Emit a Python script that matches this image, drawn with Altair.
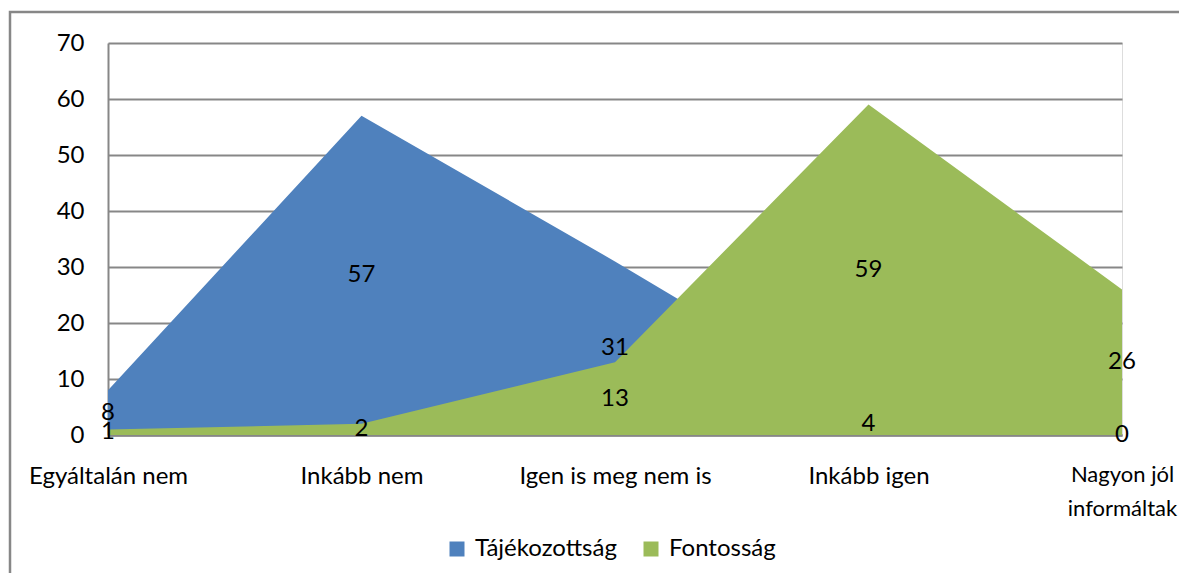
import altair as alt
import pandas as pd

categories = ["Egyáltalán nem", "Inkább nem", "Igen is meg nem is", "Inkább igen", "Nagyon jól informáltak"]
series_names = ["Tájékozottság", "Fontosság"]
tajekozottsag = [8, 57, 31, 4, 0]
fontossag = [1, 2, 13, 59, 26]
colors = ["#4F81BD", "#9BBB59"]
y_ticks = [0, 10, 20, 30, 40, 50, 60, 70]

rows = []
for name, vals in zip(series_names, [tajekozottsag, fontossag]):
    for c, v in zip(categories, vals):
        rows.append({"cat": c, "series": name, "value": v})
df = pd.DataFrame(rows)

FONT = "Lato"
FS = 24
GRID = "#878787"

x_enc = alt.X("cat:O", sort=categories, scale=alt.Scale(type="point", padding=0),
              axis=alt.Axis(title=None, labelAngle=0, labelFont=FONT,
                            labelFontSize={"condition": {"test": "datum.label == 'Nagyon jól informáltak'", "value": 22}, "value": FS},
                            labelColor="black", labelPadding=29, ticks=False, labelLimit=0,
                            domainColor=GRID, domainWidth=2.5, grid=False,
                            labelLineHeight=34, labelBaseline="top",
                            labelExpr="datum.label == 'Nagyon jól informáltak' ? ['Nagyon jól', 'informáltak'] : datum.label"))
y_enc = alt.Y("value:Q", scale=alt.Scale(domain=[0, 70], nice=False),
              axis=alt.Axis(title=None, values=y_ticks, labelFont=FONT, labelFontSize=FS,
                            labelColor="black", labelPadding=24, ticks=False,
                            domainColor=GRID, domainWidth=2, gridColor=GRID, gridWidth=2))
color_enc = alt.Color("series:N", scale=alt.Scale(domain=series_names, range=colors),
                      legend=alt.Legend(title=None, orient="none", direction="horizontal",
                                        legendX=337, legendY=494, symbolType="square",
                                        symbolSize=225, symbolStrokeWidth=0,
                                        labelFont=FONT, labelFontSize=FS, labelColor="black",
                                        labelOffset=6, columnPadding=22))

base = alt.Chart(df)
blue = base.transform_filter(alt.datum.series == series_names[0]).mark_area(opacity=1).encode(
    x=x_enc, y=y_enc, color=color_enc)
green = base.transform_filter(alt.datum.series == series_names[1]).mark_area(opacity=1).encode(
    x=x_enc, y=y_enc, color=color_enc)
labels = base.transform_calculate(half="datum.value / 2").mark_text(
    font=FONT, fontSize=FS, color="black", baseline="middle", align="center").encode(
    x=alt.X("cat:O", sort=categories), y=alt.Y("half:Q"), text="value:Q")

border = alt.Chart(pd.DataFrame({"k": [0]})).mark_rect(
    filled=False, stroke=GRID, strokeWidth=2.5).encode(
    x=alt.value(-98), x2=alt.value(1200), y=alt.value(-31), y2=alt.value(700))

chart = alt.layer(border, blue, green, labels).properties(
    width=1014, height=392,
    autosize=alt.AutoSizeParams(type="none"),
    padding={"left": 100, "top": 35, "right": 57, "bottom": 138},
).configure_view(stroke=None).configure(background="white")

chart.save("out.html", embed_options={"renderer": "svg", "actions": False})
